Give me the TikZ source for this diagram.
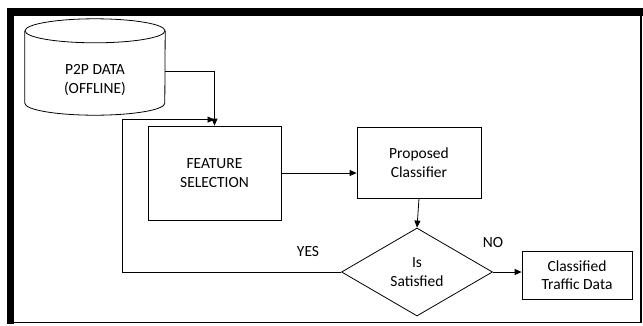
\documentclass[tikz,border=0pt]{standalone}
\usepackage{fontspec}
\setmainfont{Carlito}
\usetikzlibrary{arrows.meta,shapes.geometric}

\begin{document}
\begin{tikzpicture}[x=1pt,y=-1pt,>={Triangle[length=7pt,width=6pt]},
  txt/.style={align=center,font=\fontsize{15.5}{18.5}\selectfont},
  box/.style={draw,line width=0.8pt,inner sep=0pt,txt},
  conn/.style={->,line width=0.8pt}]
  \useasboundingbox (0,0) rectangle (643,325);
  % frame
  \fill (7,8) rectangle (643,16);
  \fill (7,8) rectangle (14,324);
  \draw[line width=1.5pt] (14,322.5) -- (641,322.5) -- (641,16);
  % data store
  \node[minimum width=140pt,minimum height=96pt,inner sep=0pt,
    label={[txt,yshift=-13pt]center:{P2P DATA\\(OFFLINE)}}] (data) at (95,67) {};
  \draw[line width=0.8pt] ([yshift=-12pt]data.north) ellipse [x radius=70pt,y radius=12pt];
  \draw[line width=0.8pt] ([yshift=-12pt]data.north west) -- ([yshift=12pt]data.south west)
    arc[start angle=180,end angle=360,x radius=70pt,y radius=12pt] -- ([yshift=-12pt]data.north east);
  % boxes
  \node[box,minimum width=133pt,minimum height=94pt] (fs) at (214.5,173) {FEATURE\\SELECTION};
  \node[box,shape=diamond,aspect=1.72,minimum width=151pt,minimum height=88pt] (dia) at (417,272) {Is\\Satisfied};
  \node[box,minimum width=124pt,minimum height=71pt] (pc) at (419,162.5) {Proposed\\Classifier};
  \node[box,minimum width=110pt,minimum height=48pt] (cl) at (577,275) {Classified\\Traffic Data};
  \node[txt] (yes) at (308,252) {YES};
  \node[txt] (no) at (493,243) {NO};
  \coordinate (join) at ([yshift=6pt]fs.north);
  % connectors
  \draw[conn] ([yshift=-4pt]data.east) -| (fs.north);
  \draw[conn] (dia.west) -- ++(-219,0) |- (join);
  \draw[conn] (fs.east) -- (fs.east -| pc.west);
  \draw[conn] (pc.south) -- (dia.north);
  \draw[conn] (dia.east) -- (dia.east -| cl.west);
\end{tikzpicture}
\end{document}
